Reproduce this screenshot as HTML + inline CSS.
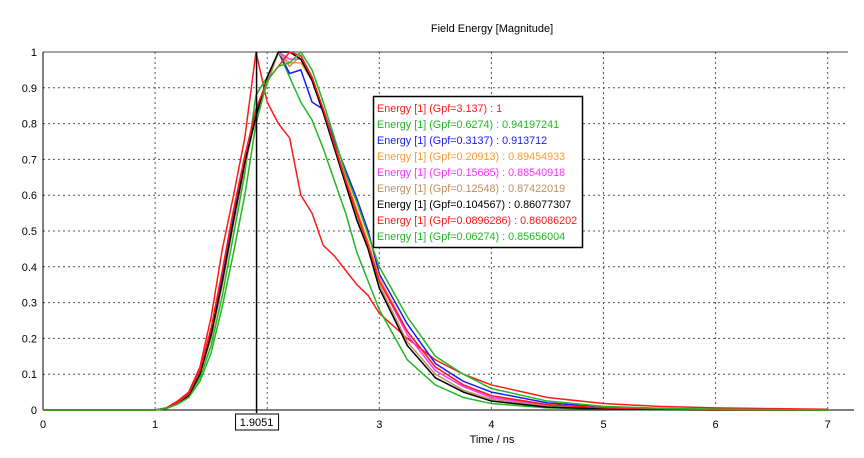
<!DOCTYPE html>
<html><head><meta charset="utf-8">
<style>
html,body{margin:0;padding:0;background:#fff;}
svg{display:block;font-family:"Liberation Sans",sans-serif;}
</style></head>
<body>
<svg id="chart" width="864" height="458" viewBox="0 0 864 458">
<text x="492" y="32" font-size="11" text-anchor="middle" fill="#000">Field Energy [Magnitude]</text>
<g id="grid"></g>
<g id="axes"></g>
<g id="series"></g>
<g id="cursor"></g>
<text x="492" y="443" font-size="11" text-anchor="middle" fill="#000">Time / ns</text>
<g id="legend"></g>
</svg>
<script>
const times = [0,1.0,1.1,1.2,1.3,1.4,1.5,1.6,1.7,1.8,1.9,2.0,2.1,2.2,2.3,2.4,2.5,2.6,2.7,2.8,2.9,3.0,3.25,3.5,3.75,4,4.5,5,5.5,6,7];
const sRed1 = [0,0,0.006,0.025,0.05,0.12,0.26,0.45,0.6,0.76,1.0,0.86,0.80,0.76,0.6,0.55,0.46,0.43,0.39,0.35,0.32,0.27,0.2,0.14,0.1,0.07,0.035,0.018,0.01,0.006,0.002];
const sGreen1 = [0,0,0.004,0.018,0.04,0.09,0.18,0.32,0.49,0.66,0.88,0.93,1.0,0.93,0.86,0.81,0.73,0.64,0.55,0.44,0.36,0.28,0.14,0.07,0.035,0.018,0.006,0.002,0.001,0,0];
const sBlue = [0,0,0.005,0.02,0.045,0.11,0.22,0.37,0.54,0.70,0.84,0.92,1.0,0.94,0.95,0.86,0.84,0.75,0.67,0.59,0.50,0.38,0.24,0.13,0.08,0.05,0.02,0.008,0.004,0.002,0];
const sOrange = [0,0,0.005,0.02,0.043,0.1,0.21,0.36,0.53,0.69,0.83,0.92,1.0,0.97,0.97,0.92,0.84,0.74,0.65,0.56,0.47,0.37,0.22,0.12,0.07,0.04,0.015,0.006,0.003,0.001,0];
const sMagenta = [0,0,0.005,0.02,0.043,0.1,0.21,0.36,0.53,0.69,0.83,0.92,1.0,0.98,0.98,0.93,0.84,0.74,0.64,0.55,0.46,0.36,0.21,0.11,0.065,0.035,0.013,0.005,0.002,0.001,0];
const sTan = [0,0,0.005,0.02,0.042,0.1,0.2,0.35,0.52,0.68,0.82,0.91,1.0,0.96,0.99,0.93,0.84,0.74,0.64,0.54,0.45,0.35,0.19,0.1,0.055,0.03,0.01,0.004,0.002,0.001,0];
const sBlack = [0,0,0.005,0.02,0.04,0.1,0.21,0.36,0.53,0.69,0.82,0.93,1.0,1.0,0.98,0.92,0.83,0.73,0.63,0.53,0.45,0.34,0.18,0.09,0.05,0.025,0.008,0.003,0.001,0,0];
const sRed2 = [0,0,0.005,0.02,0.045,0.11,0.23,0.39,0.56,0.71,0.84,0.92,0.96,1.0,0.99,0.93,0.84,0.74,0.64,0.55,0.46,0.36,0.22,0.12,0.07,0.04,0.015,0.006,0.003,0.001,0];
const sGreen2 = [0,0,0.004,0.016,0.035,0.08,0.16,0.29,0.44,0.60,0.80,0.92,0.96,0.97,1.0,0.95,0.86,0.76,0.66,0.58,0.49,0.40,0.26,0.15,0.1,0.06,0.025,0.01,0.005,0.002,0];
const seriesVals = [sRed1,sGreen1,sBlue,sOrange,sMagenta,sTan,sBlack,sRed2,sGreen2];
const seriesColors = ["#ff1a1a","#22b822","#1a1aff","#ff9933","#ff33ff","#c09060","#000000","#ff1a1a","#22b822"];
const legendLabels = ["Energy [1] (Gpf=3.137) : 1","Energy [1] (Gpf=0.6274) : 0.94197241","Energy [1] (Gpf=0.3137) : 0.913712","Energy [1] (Gpf=0.20913) : 0.89454933","Energy [1] (Gpf=0.15685) : 0.88540918","Energy [1] (Gpf=0.12548) : 0.87422019","Energy [1] (Gpf=0.104567) : 0.86077307","Energy [1] (Gpf=0.0896286) : 0.86086202","Energy [1] (Gpf=0.06274) : 0.85656004"];
const xTicks = [0,1,3,4,5,6,7];
const xGrid = [1,2,3,4,5,6,7];
const yTicks = [0,0.1,0.2,0.3,0.4,0.5,0.6,0.7,0.8,0.9,1];
const cursorT = 1.9051;

const NS="http://www.w3.org/2000/svg";
const X0=43, XS=112.1, Y0=410, YS=358, XR=848;
const xs = t => X0 + t*XS;
const ys = v => Y0 - v*YS;
function mk(tag, attrs, parent){const e=document.createElementNS(NS,tag);for(const k in attrs)e.setAttribute(k,attrs[k]);parent.appendChild(e);return e;}
const gGrid=document.getElementById('grid'), gAxes=document.getElementById('axes'), gSer=document.getElementById('series'), gCur=document.getElementById('cursor'), gLeg=document.getElementById('legend');

xGrid.forEach(t=>{const l=mk('line',{x1:xs(t),x2:xs(t),y1:ys(1),y2:Y0,stroke:'#555','stroke-width':1,'stroke-dasharray':'2,3'},gGrid);

});
yTicks.forEach(v=>{if(v===0||v===1)return;const l=mk('line',{x1:X0,x2:XR,y1:ys(v),y2:ys(v),stroke:'#555','stroke-width':1,'stroke-dasharray':'2,3'},gGrid);

});

const topBorder=mk('line',{x1:X0,x2:XR,y1:ys(1),y2:ys(1),stroke:'#444','stroke-width':1},gAxes);


const xAxisLine=mk('line',{x1:X0,x2:XR+6,y1:Y0,y2:Y0,stroke:'#000','stroke-width':1},gAxes);


const yAxisLine=mk('line',{x1:X0,x2:X0,y1:ys(1),y2:Y0,stroke:'#000','stroke-width':1},gAxes);



xTicks.forEach(t=>{const tx=mk('text',{x:xs(t),y:428,'font-size':11,'text-anchor':'middle',fill:'#000'},gAxes);tx.textContent=t;

});
yTicks.forEach(v=>{const tx=mk('text',{x:37,y:ys(v)+4,'font-size':11,'text-anchor':'end',fill:'#000'},gAxes);tx.textContent=(v===0||v===1)?v:v.toFixed(1);

});

seriesVals.forEach((vals,i)=>{const pts=vals.map((v,j)=>xs(times[j])+','+ys(v)).join(' ');
const p=mk('polyline',{points:pts,fill:'none',stroke:seriesColors[i],'stroke-width':1.5,'stroke-linejoin':'round'},gSer);

});

const cl=mk('line',{x1:xs(cursorT),x2:xs(cursorT),y1:ys(1),y2:Y0+3,stroke:'#000','stroke-width':1.5},gCur);


const cb=mk('rect',{x:xs(cursorT)-21,y:414,width:43,height:16,fill:'#fff',stroke:'#000','stroke-width':1},gCur);


const ct=mk('text',{x:xs(cursorT),y:426,'font-size':11,'text-anchor':'middle',fill:'#000'},gCur);ct.textContent=cursorT.toFixed(4);



const lb=mk('rect',{x:373.5,y:96.5,width:209,height:151,fill:'#fff',stroke:'#000','stroke-width':1.5},gLeg);


legendLabels.forEach((s,i)=>{const tx=mk('text',{x:377,y:112+i*16,'font-size':10.8,fill:seriesColors[i]},gLeg);tx.textContent=s;

});
</script>
</body></html>
